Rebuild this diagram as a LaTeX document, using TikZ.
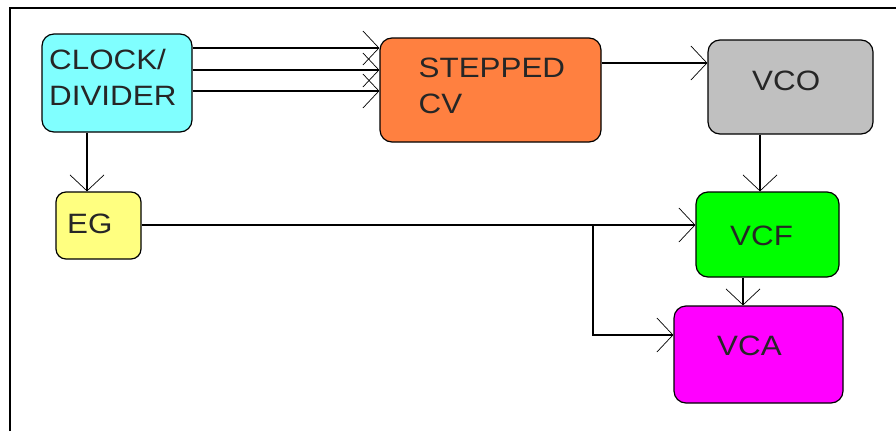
\documentclass[tikz,border=0pt]{standalone}
\usepackage{fontspec}
\newfontfamily\labfont[FakeStretch=1.12]{Liberation Sans}
\usetikzlibrary{arrows.meta}
\definecolor{ccyan}{HTML}{80FFFF}
\definecolor{corange}{HTML}{FF8040}
\definecolor{cgray}{HTML}{C0C0C0}
\definecolor{cyellow}{HTML}{FFFF80}
\definecolor{cgreen}{HTML}{00FF00}
\definecolor{cmagenta}{HTML}{FF00FF}
\tikzset{
  box/.style={draw=black, line width=1.2pt, rounded corners=12pt, inner sep=0pt},
  lbl/.style={anchor=base west, inner sep=0pt, font=\labfont\fontsize{28}{36}\selectfont, text=black!85},
  arr/.style={line width=1.2pt, -{Straight Barb[length=16pt,width=34pt,line width=0.7pt]}},
  ln/.style={line width=1.2pt}
}
\begin{document}
\begin{tikzpicture}[x=1pt,y=-1pt]
\useasboundingbox (0,0) rectangle (896,431);
\draw[line width=1.8pt] (10,431) -- (10,8) -- (896,8);
% boxes
\node[box, fill=ccyan, minimum width=150pt, minimum height=98pt] (clk) at (117,83) {};
\node[box, fill=corange, minimum width=221pt, minimum height=104pt] (stp) at (490.5,90) {};
\node[box, fill=cgray, minimum width=165pt, minimum height=94pt] (vco) at (790.5,87) {};
\node[box, fill=cyellow, rounded corners=10pt, minimum width=85pt, minimum height=67pt] (eg) at (98.5,225.5) {};
\node[box, fill=cgreen, minimum width=143pt, minimum height=85pt] (vcf) at (767.5,234.5) {};
\node[box, fill=cmagenta, minimum width=169pt, minimum height=97pt] (vca) at (758.5,354.5) {};
% labels
\node[lbl] (t1) at (49,69) {CLOCK/};
\node[lbl] (t2) at (49,105) {DIVIDER};
\node[lbl] (t3) at (418.5,77) {STEPPED};
\node[lbl] (t4) at (418.5,113) {CV};
\node[lbl] (t5) at (752,90) {VCO};
\node[lbl] (t6) at (730,245) {VCF};
\node[lbl] (t7) at (717,355) {VCA};
\node[lbl] (t8) at (67,233) {EG};
% connectors
\draw[arr] (clk.east |- 0,48) -- (stp.west |- 0,48);
\draw[arr] (clk.east |- 0,70) -- (stp.west |- 0,70);
\draw[arr] (clk.east |- 0,91) -- (stp.west |- 0,91);
\draw[arr] (stp.east |- 0,63) -- (vco.west |- 0,63);
\draw[arr] (vco.south -| 760,0) -- (vcf.north -| 760,0);
\draw[arr] (clk.south -| 87,0) -- (eg.north -| 87,0);
\draw[arr] (eg.east |- 0,225) -- (vcf.west |- 0,225);
\coordinate (br) at (593,225);
\draw[arr] (br) |- (vca.west |- 0,335);
\draw[arr] (vcf.south -| 743,0) -- (vca.north -| 743,0);
\end{tikzpicture}
\end{document}
